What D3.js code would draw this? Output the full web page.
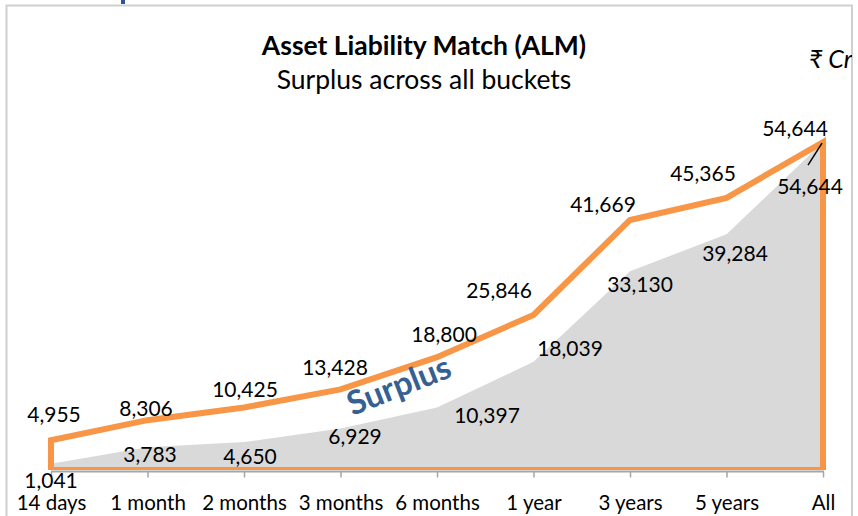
<!DOCTYPE html>
<html>
<head>
<meta charset="utf-8">
<script src="https://cdn.jsdelivr.net/npm/d3@7"></script>
<style>
  html, body { margin: 0; padding: 0; background: #ffffff; }
  svg { display: block; font-family: Lato, "Noto Sans", sans-serif; }
</style>
</head>
<body>
<svg id="chart" width="858" height="516"></svg>
<script>
// ---- data ----
const categories = ["14 days", "1 month", "2 months", "3 months", "6 months", "1 year", "3 years", "5 years", "All"];
const cumulativeAssets = [4955, 8306, 10425, 13428, 18800, 25846, 41669, 45365, 54644];
const cumulativeSurplus = [1041, 3783, 4650, 6929, 10397, 18039, 33130, 39284, 54644];
const titleText = "Asset Liability Match (ALM)";
const subtitleText = "Surplus across all buckets";
const unitText = "₹ Cr";
const areaLabel = "Surplus";

// ---- layout (label nudges, like manually dragged Excel labels) ----
const upperLabelNudge = [[3,-26],[-1.5,-12],[1,-18.5],[-5.5,-21.5],[7,-23],[-34.5,-24],[-27,-16],[-23.5,-24],[-28,-14]];
const lowerLabelNudge = [[0,17],[2.5,6.7],[6,14],[14.5,7.6],[50,8],[36.5,-13],[10,13],[8.5,19],[-13,44]];

const svg = d3.select("#chart");
const W = 858, H = 516;
const orange = "#F79646", grayFill = "#D9D9D9", blue = "#376092";

const x = d3.scalePoint().domain(categories).range([51, 823]);
const y = d3.scaleLinear().domain([0, 60000]).range([470, 110]);
const fmt = d3.format(",");

// clip paths
const defs = svg.append("defs");
defs.append("clipPath").attr("id", "frameClip")
  .append("rect").attr("x", 7).attr("y", 6).attr("width", 845).attr("height", H);
defs.append("clipPath").attr("id", "plotClip")
  .append("rect").attr("x", 0).attr("y", 100).attr("width", W).attr("height", 370);

// stray fragment of slide text above the chart frame
svg.append("rect").attr("x", 121).attr("y", 0).attr("width", 4).attr("height", 4).attr("fill", "#2F5597");

// outer frame
svg.append("rect").attr("x", 6.5).attr("y", 5.5).attr("width", 845.5).attr("height", H + 10)
  .attr("fill", "#fff").attr("stroke", "#D0D0D0").attr("stroke-width", 2);

const g = svg.append("g").attr("clip-path", "url(#frameClip)");

// grey surplus area
const area = d3.area().x((d, i) => x(categories[i])).y0(y(0)).y1(d => y(d));
g.append("path").datum(cumulativeSurplus).attr("d", area)
  .attr("fill", grayFill).attr("clip-path", "url(#plotClip)");

// orange outlined area
const outline = d3.area().x((d, i) => x(categories[i])).y0(y(0)).y1(d => y(d));
g.append("path").datum(cumulativeAssets).attr("d", outline)
  .attr("fill", "none").attr("stroke", orange).attr("stroke-width", 6)
  .attr("stroke-linejoin", "miter").attr("clip-path", "url(#plotClip)");

// x axis
const axis = d3.axisBottom(x).tickSize(6).tickSizeOuter(0).tickPadding(18);
const ax = g.append("g").attr("transform", `translate(0,${y(0) + 1.5})`).call(axis);
ax.select(".domain").attr("stroke", "#A6A6A6").attr("stroke-width", 2)
  .attr("d", `M${x(categories[0])},0H${x(categories[categories.length-1]) + 1}`);
ax.selectAll(".tick line").attr("stroke", "#A6A6A6").attr("stroke-width", 1.5);
ax.selectAll(".tick text").attr("fill", "#000").attr("font-size", 20.5)
  .attr("font-family", "Lato, 'Noto Sans', sans-serif");

// value labels
g.selectAll("text.upper").data(cumulativeAssets).join("text").attr("class", "upper")
  .attr("x", (d, i) => x(categories[i]) + upperLabelNudge[i][0])
  .attr("y", (d, i) => y(d) + upperLabelNudge[i][1])
  .attr("dy", "0.36em").attr("text-anchor", "middle")
  .attr("font-size", 21).attr("fill", "#000").text(d => fmt(d));

g.selectAll("text.lower").data(cumulativeSurplus).join("text").attr("class", "lower")
  .attr("x", (d, i) => x(categories[i]) + lowerLabelNudge[i][0])
  .attr("y", (d, i) => y(d) + lowerLabelNudge[i][1])
  .attr("dy", "0.36em").attr("text-anchor", "middle")
  .attr("font-size", 21).attr("fill", "#000").text(d => fmt(d));

// leader line for last lower label
const lastI = categories.length - 1;
const px = x(categories[lastI]), py = y(cumulativeSurplus[lastI]);
g.append("line").attr("x1", px - 15).attr("y1", py + 23).attr("x2", px - 1).attr("y2", py + 1)
  .attr("stroke", "#000").attr("stroke-width", 1.5);

// "Surplus" annotation
g.append("text").attr("transform", "translate(403,396) rotate(-21.5)")
  .attr("text-anchor", "middle").attr("font-size", 33).attr("font-weight", 700)
  .attr("fill", blue).text(areaLabel);

// titles
g.append("text").attr("x", 424).attr("y", 55).attr("text-anchor", "middle")
  .attr("font-size", 26.5).attr("font-weight", 700).attr("fill", "#000").text(titleText);
g.append("text").attr("x", 424).attr("y", 89).attr("text-anchor", "middle")
  .attr("font-size", 26.5).attr("fill", "#000").text(subtitleText);
g.append("text").attr("x", 809).attr("y", 68).attr("text-anchor", "start")
  .attr("font-size", 25).attr("font-style", "italic").attr("fill", "#000").text(unitText);
</script>
</body>
</html>
